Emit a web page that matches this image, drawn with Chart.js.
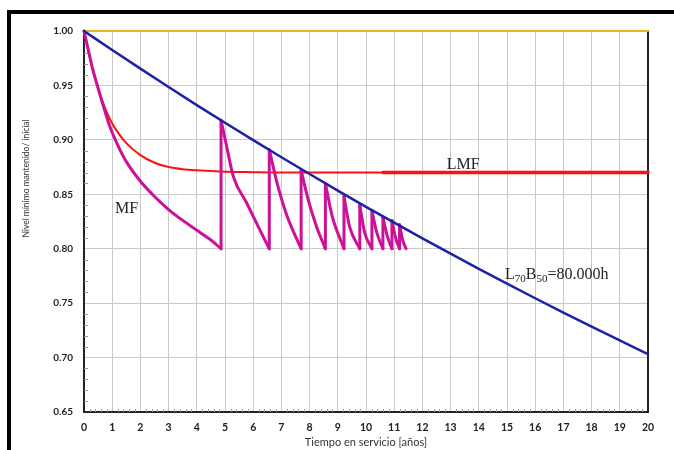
<!DOCTYPE html>
<html>
<head>
<meta charset="utf-8">
<script src="https://cdn.jsdelivr.net/npm/chart.js@4.4.1/dist/chart.umd.min.js"></script>
<style>
  html, body { margin: 0; padding: 0; background: #fff; overflow: hidden; }
  #wrap { position: relative; width: 674px; height: 450px; }
  #frame { position: absolute; left: 7px; top: 10px; width: 720px; height: 480px; border: 4px solid #000; box-sizing: border-box; }
  canvas { position: absolute; left: 0; top: 0; }
</style>
</head>
<body>
<div id="wrap">
  <div id="frame"></div>
  <canvas id="chart" width="674" height="450"></canvas>
</div>
<script>
// ── Data ──
const years = [0, 20];
const refLevel = [1.00, 1.00];

// L70B50 = 80.000h depreciation
const lifeYears = [0, 1, 2, 3, 4, 5, 6, 7, 8, 9, 10, 11, 12, 13, 14, 15, 16, 17, 18, 19, 20];
const lifeLevel = [1.000, 0.9825, 0.9654, 0.9485, 0.9319, 0.9157, 0.8997, 0.8840, 0.8686, 0.8534,
                   0.8385, 0.8239, 0.8095, 0.7954, 0.7815, 0.7679, 0.7545, 0.7413, 0.7284, 0.7157, 0.7032];

// LMF curve (thin part, then thick flat part)
const lmfYears = [0, 0.1, 0.25, 0.5, 0.75, 1, 1.25, 1.5, 2, 2.5, 3, 3.5, 4, 5, 6, 7, 10.6];
const lmfLevel = [1.000, 0.988, 0.970, 0.947, 0.929, 0.915, 0.905, 0.897, 0.886, 0.879, 0.875, 0.873, 0.872, 0.8708, 0.8703, 0.870, 0.870];
const lmfFlatYears = [10.6, 20];
const lmfFlatLevel = [0.870, 0.870];

// MF sawtooth: decay curves, a repeated year marks a cleaning (vertical jump)
const mfYears = [0, 0.15, 0.3, 0.45, 0.7, 0.92, 1.2, 1.5, 2, 2.5, 3, 3.5, 4, 4.5, 4.86,
                 4.86, 5.05, 5.3, 5.77, 6.24, 6.57,
                 6.57, 6.85, 7.2, 7.70,
                 7.70, 7.95, 8.25, 8.56,
                 8.56, 8.8, 9.22,
                 9.22, 9.42, 9.78,
                 9.78, 9.95, 10.21,
                 10.21, 10.38, 10.6,
                 10.6, 10.75, 10.92,
                 10.92, 11.05, 11.19,
                 11.19, 11.3, 11.42];
const mfLevel = [1.000, 0.983, 0.966, 0.952, 0.930, 0.912, 0.895, 0.880, 0.862, 0.848, 0.836, 0.826, 0.817, 0.808, 0.800,
                 0.918, 0.895, 0.866, 0.842, 0.817, 0.800,
                 0.891, 0.860, 0.830, 0.800,
                 0.872, 0.845, 0.820, 0.800,
                 0.860, 0.830, 0.800,
                 0.848, 0.820, 0.800,
                 0.840, 0.815, 0.800,
                 0.835, 0.815, 0.800,
                 0.829, 0.812, 0.800,
                 0.826, 0.810, 0.800,
                 0.822, 0.808, 0.800];

const xTicks = [0, 20, 1];
const yTicks = [0.65, 1.00, 0.05];

// in-plot labels
const notes = [
  { x: 12.86, y: 0.8733, parts: [['LMF', 0]] },
  { x: 1.1, y: 0.833, parts: [['MF', 0]] },
  { x: 14.93, y: 0.772, parts: [['L', 0], ['70', 1], ['B', 0], ['50', 1], ['=80.000h', 0]] },
];

const pts = (xs, ys) => xs.map((x, i) => ({ x, y: ys[i] }));

// split the sawtooth into smooth decay pieces + vertical jumps
const MF_COLOR = '#cc1199';
const mfSegments = [];
const mfJumps = [];
let seg = [];
mfYears.forEach((x, i) => {
  if (i > 0 && x === mfYears[i - 1]) {
    mfSegments.push(seg);
    mfJumps.push({ x, y: mfLevel[i - 1] }, { x, y: mfLevel[i] }, { x, y: null });
    seg = [];
  }
  seg.push({ x, y: mfLevel[i] });
});
mfSegments.push(seg);

// ── minor ticks, labels, y title ──
const extrasPlugin = {
  id: 'extras',
  beforeDatasetsDraw(chart) {
    const { ctx, scales: { x, y } } = chart;
    ctx.save();
    ctx.strokeStyle = '#999';
    ctx.lineWidth = 1;
    ctx.beginPath();
    for (let i = 0; i <= 35; i++) {
      if (i % 5 === 0) continue;
      const py = Math.round(y.getPixelForValue(0.65 + i * 0.01)) + 0.5;
      ctx.moveTo(x.left, py); ctx.lineTo(x.left + 4, py);
    }
    for (let i = 0; i <= 100; i++) {
      if (i % 5 === 0) continue;
      const px = Math.round(x.getPixelForValue(i * 0.2)) + 0.5;
      ctx.moveTo(px, y.bottom); ctx.lineTo(px, y.bottom - 3);
    }
    ctx.stroke();
    ctx.restore();
  },
  afterDatasetsDraw(chart) {
    const { ctx, scales: { x, y } } = chart;
    ctx.save();
    ctx.fillStyle = '#222';
    ctx.textBaseline = 'alphabetic';
    notes.forEach(n => {
      let px = x.getPixelForValue(n.x);
      const py = y.getPixelForValue(n.y);
      n.parts.forEach(([t, sub]) => {
        ctx.font = sub ? '11px "Liberation Serif"' : '16px "Liberation Serif"';
        ctx.fillText(t, px, sub ? py + 3 : py);
        px += ctx.measureText(t).width;
      });
    });
    // y axis title, sits above the axis middle like in the source
    ctx.translate(26, y.getPixelForValue(0.8645));
    ctx.rotate(-Math.PI / 2);
    ctx.font = '8.5px Lato';
    ctx.fillStyle = '#333';
    ctx.textAlign = 'center';
    ctx.textBaseline = 'middle';
    ctx.fillText('Nivel mínimo mantenido/ inicial', 0, 0);
    ctx.restore();
  }
};

const data = {
  datasets: [
    { data: pts(years, refLevel), borderColor: '#e9b320', borderWidth: 2, order: 5 },
    { data: pts(lifeYears, lifeLevel), borderColor: '#1c22a8', borderWidth: 2.5, cubicInterpolationMode: 'monotone', order: 1 },
    { data: pts(lmfYears, lmfLevel), borderColor: '#ff1010', borderWidth: 2, cubicInterpolationMode: 'monotone', order: 3 },
    { data: pts(lmfFlatYears, lmfFlatLevel), borderColor: '#ff1010', borderWidth: 3.5, order: 3 },
    ...mfSegments.map(s => ({ data: s, borderColor: MF_COLOR, borderWidth: 3, cubicInterpolationMode: 'monotone', order: 2 })),
    { data: mfJumps, borderColor: MF_COLOR, borderWidth: 3, spanGaps: false, order: 2 },
  ]
};

const options = {
  responsive: false,
  animation: false,
  layout: { padding: { top: 31, left: 14, right: 0, bottom: 0 } },
  elements: { point: { radius: 0 }, line: { tension: 0, borderCapStyle: 'round', borderJoinStyle: 'round' } },
  datasets: { line: { clip: 4 } },
  plugins: { legend: { display: false }, tooltip: { enabled: false } },
  scales: {
    x: {
      type: 'linear', min: xTicks[0], max: xTicks[1],
      afterFit: s => { s.height = 38; },
      grid: { color: '#c9c9c9', drawTicks: false },
      border: { color: '#222', width: 2 },
      ticks: { stepSize: xTicks[2], padding: 9, color: '#222', font: { family: 'Lato', weight: 'bold', size: 10.5 } },
      title: { display: true, text: 'Tiempo en servicio [años]', color: '#333', padding: { top: 0, bottom: 1 }, font: { family: 'Lato', size: 11 } }
    },
    y: {
      min: yTicks[0], max: yTicks[1],
      afterFit: s => { s.width = 70; },
      grid: { color: '#c9c9c9', drawTicks: false },
      border: { color: '#222', width: 2 },
      ticks: { stepSize: yTicks[2], padding: 11, color: '#222', callback: v => v.toFixed(2), font: { family: 'Lato', weight: 'bold', size: 10 } }
    },
    y2: {
      position: 'right', min: yTicks[0], max: yTicks[1],
      afterFit: s => { s.width = 26; },
      grid: { display: false, drawTicks: false },
      border: { color: '#222', width: 2 },
      ticks: { display: false }
    }
  }
};

new Chart(document.getElementById('chart'), { type: 'line', data, options, plugins: [extrasPlugin] });
</script>
</body>
</html>
